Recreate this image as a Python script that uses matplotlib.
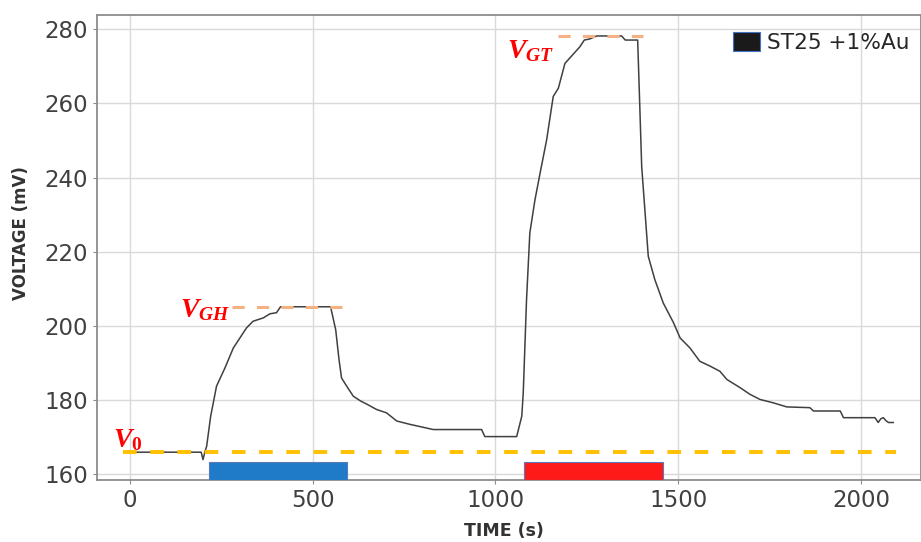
import matplotlib
matplotlib.use("Agg")
import matplotlib.pyplot as plt
from matplotlib.patches import Patch

# curve (time in s, voltage in mV)
time_s = [5, 195, 200, 205, 210, 221, 237, 260, 283, 301, 319, 337, 365, 383, 401, 412,
          415, 549, 563, 572, 579, 593, 611, 631, 649, 675, 702, 730, 766, 830, 962, 971,
          1058, 1072, 1076, 1085, 1094, 1108, 1122, 1140, 1158, 1172, 1190, 1231, 1243,
          1258, 1277, 1345, 1355, 1389, 1400, 1418, 1436, 1459, 1487, 1505, 1532, 1559,
          1587, 1614, 1633, 1669, 1696, 1724, 1760, 1797, 1860, 1870, 1943, 1952, 2038,
          2047, 2054, 2061, 2068, 2075, 2088]
voltage = [166, 166, 164, 166, 167.6, 175.7, 183.8, 188.7, 194.1, 196.8, 199.5, 201.3,
           202.2, 203.3, 203.6, 205.2, 205.2, 205.2, 199, 191, 186, 183.8, 181.1, 179.8,
           178.9, 177.5, 176.6, 174.4, 173.5, 172.1, 172.1, 170.2, 170.2, 175.7, 182,
           207.1, 225.1, 234, 241.2, 250.2, 261.9, 264.1, 270.8, 275.3, 277.1, 277.4,
           278.2, 278.2, 277.1, 277.1, 243, 218.8, 212.5, 206.2, 200.9, 196.8, 194.1,
           190.5, 189.2, 187.8, 185.6, 183.4, 181.6, 180.2, 179.3, 178.2, 178.0, 177.1,
           177.1, 175.3, 175.3, 174.0, 175.0, 175.3, 174.5, 174.0, 174.0]

v0 = 166
v_gh = 205.2
v_gt = 278.2
v0_span = (-19, 2096)
gh_span = (278, 593)
gt_span = (1171, 1404)

# exposure bars: (start, end, colour)
bars = [(216, 595, "#1f7bc8"), (1079, 1457, "#ff1a1a")]

xticks = [0, 500, 1000, 1500, 2000]
yticks = [160, 180, 200, 220, 240, 260, 280]

plt.rcParams["mathtext.fontset"] = "custom"
plt.rcParams["mathtext.it"] = "Liberation Serif:italic:bold"
plt.rcParams["mathtext.rm"] = "Liberation Serif:bold"

fig = plt.figure(figsize=(9.21, 5.42), dpi=100)
ax = fig.add_axes([0.1053, 0.1144, 0.8947, 0.8579])

ax.grid(True, color="#d9d9d9", lw=1)
ax.set_axisbelow(True)

ax.plot(time_s, voltage, color="#404040", lw=1.1, zorder=3)

ax.plot(v0_span, [v0, v0], color="#ffc000", lw=2.8, dashes=(3.5, 3.5), zorder=4)
ax.plot(gh_span, [v_gh, v_gh], color="#f4b183", lw=2.2, dashes=(4, 4), zorder=4)
ax.plot(gt_span, [v_gt, v_gt], color="#f4b183", lw=2.2, dashes=(4, 4), zorder=4)

for start, end, col in bars:
    ax.bar(start, 163.3 - 158.5, width=end - start, bottom=158.5, align="edge",
           color=col, edgecolor="#5a7ab8", lw=0.8, zorder=3)

ax.text(-47, 167.4, r"$V_{0}$", color="#ff0000", fontsize=20)
ax.text(137, 202.4, r"$V_{GH}$", color="#ff0000", fontsize=20)
ax.text(1031, 272.2, r"$V_{GT}$", color="#ff0000", fontsize=20)

ax.set_xlim(-90, 2164)
ax.set_ylim(158.5, 283.85)
ax.set_xticks(xticks)
ax.set_yticks(yticks)
ax.tick_params(labelsize=16.5, colors="#8c8c8c", labelcolor="#404040", length=3)
for s in ax.spines.values():
    s.set_color("#8c8c8c")
    s.set_linewidth(1.3)

ax.set_xlabel("TIME (s)", fontsize=12.5, fontweight="bold", color="#333333")
ax.set_ylabel("VOLTAGE (mV)", fontsize=12, fontweight="bold", color="#333333")
ax.xaxis.set_label_coords(0.494, -0.09)
ax.yaxis.set_label_coords(-0.081, 0.531)

handle = Patch(facecolor="#1a1a1a", edgecolor="#4472c4", lw=0.8)
ax.legend([handle], ["ST25 +1%Au"], loc="upper left", bbox_to_anchor=(0.761, 0.982),
          frameon=False, fontsize=15.6, handlelength=1.25, handleheight=1.0,
          handletextpad=0.35, borderaxespad=0, labelcolor="#262626")

fig.savefig("out.png", dpi=100)
